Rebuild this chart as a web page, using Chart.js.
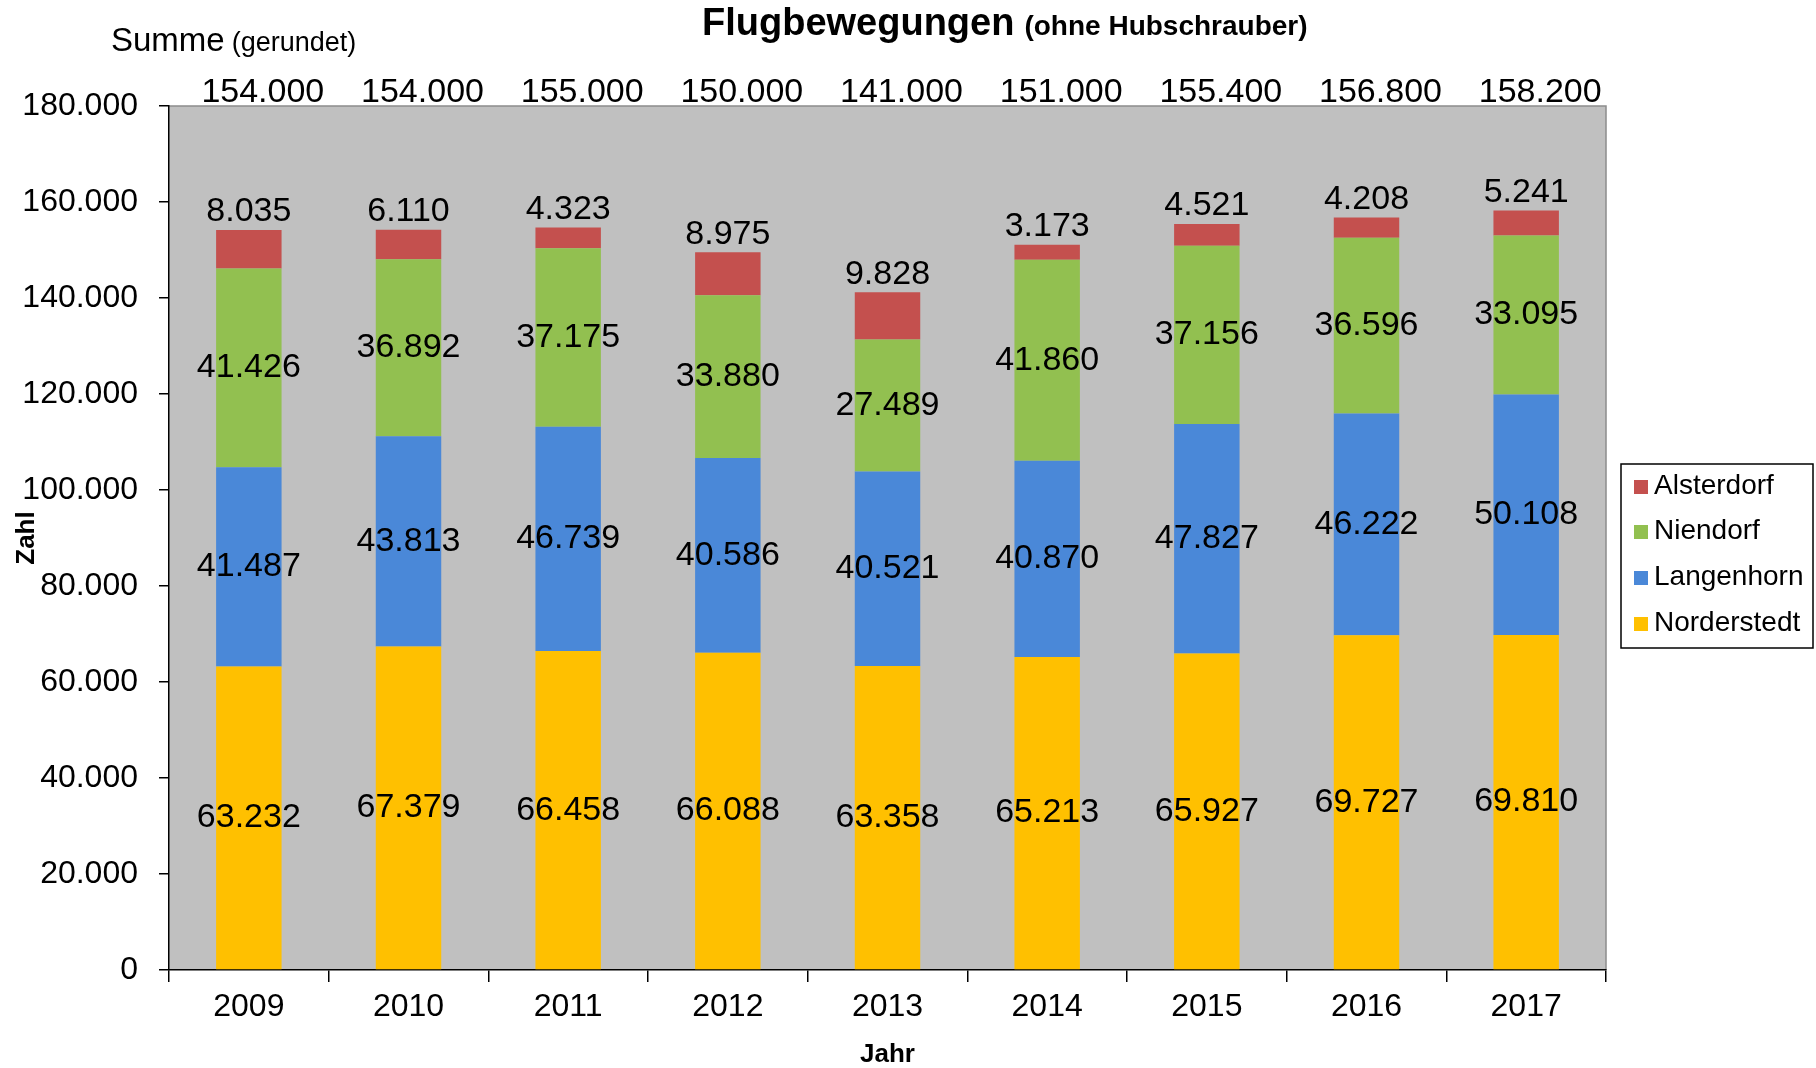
<!DOCTYPE html>
<html><head><meta charset="utf-8">
<script src="https://cdn.jsdelivr.net/npm/chart.js@4"></script>
<style>html,body{margin:0;padding:0;background:#fff;overflow:hidden}#wrap{width:1816px;height:1068px;position:relative}</style>
</head><body><div id="wrap"><canvas id="c" width="1816" height="1068"></canvas></div>
<script>
const years = ['2009','2010','2011','2012','2013','2014','2015','2016','2017'];
const norderstedt = [63232, 67379, 66458, 66088, 63358, 65213, 65927, 69727, 69810];
const langenhorn  = [41487, 43813, 46739, 40586, 40521, 40870, 47827, 46222, 50108];
const niendorf    = [41426, 36892, 37175, 33880, 27489, 41860, 37156, 36596, 33095];
const alsterdorf  = [8035, 6110, 4323, 8975, 9828, 3173, 4521, 4208, 5241];
const totals      = [154000, 154000, 155000, 150000, 141000, 151000, 155400, 156800, 158200];
const yMin = 0, yMax = 180000, yStep = 20000;

const FONT = "'Liberation Sans', Arial, sans-serif";
function fmt(n){ return String(Math.round(n)).replace(/\B(?=(\d{3})+(?!\d))/g, '.'); }

const decor = {
  id: 'decor',
  beforeDraw(chart){
    const {ctx, chartArea:a} = chart;
    ctx.save();
    ctx.fillStyle = '#C0C0C0';
    ctx.fillRect(a.left, a.top, a.right - a.left, a.bottom - a.top);
    ctx.strokeStyle = '#8C8C8C';
    ctx.lineWidth = 1.5;
    ctx.beginPath();
    ctx.moveTo(a.left, a.top); ctx.lineTo(a.right, a.top); ctx.lineTo(a.right, a.bottom);
    ctx.stroke();
    ctx.restore();
  },
  afterDatasetsDraw(chart){
    const {ctx, chartArea:a} = chart;
    ctx.save();
    ctx.fillStyle = '#000';
    ctx.textAlign = 'center';
    ctx.textBaseline = 'middle';
    ctx.font = '34px ' + FONT;
    const n = chart.data.datasets.length;
    chart.data.datasets.forEach((ds, di) => {
      const meta = chart.getDatasetMeta(di);
      meta.data.forEach((bar, i) => {
        const v = ds.data[i];
        if (di === n - 1) {
          ctx.fillText(fmt(v), bar.x, bar.y - 18);
        } else {
          ctx.fillText(fmt(v), bar.x, (bar.y + bar.base) / 2);
        }
      });
    });
    const meta0 = chart.getDatasetMeta(0);
    meta0.data.forEach((bar, i) => {
      ctx.fillText(fmt(totals[i]), bar.x + 14, a.top - 13);
    });
    ctx.restore();
  },
  afterDraw(chart){
    const {ctx} = chart;
    ctx.save();
    ctx.fillStyle = '#000';
    ctx.textBaseline = 'alphabetic';
    ctx.textAlign = 'left';
    // title
    ctx.font = 'bold 38px ' + FONT;
    ctx.fillText('Flugbewegungen', 702, 35);
    const w1 = ctx.measureText('Flugbewegungen').width;
    ctx.font = 'bold 28px ' + FONT;
    ctx.fillText('(ohne Hubschrauber)', 702 + w1 + 10, 35);
    // Summe
    ctx.font = '33px ' + FONT;
    ctx.fillText('Summe', 111, 51);
    const w2 = ctx.measureText('Summe').width;
    ctx.font = '27px ' + FONT;
    ctx.fillText('(gerundet)', 111 + w2 + 7, 51);
    // legend
    const lx = 1621, ly = 464, lw = 192, lh = 184;
    ctx.fillStyle = '#fff';
    ctx.fillRect(lx, ly, lw, lh);
    ctx.strokeStyle = '#000';
    ctx.lineWidth = 1.5;
    ctx.strokeRect(lx, ly, lw, lh);
    const rows = chart.data.datasets.slice().reverse();
    const rowY = [486, 531, 577, 623];
    ctx.font = '28px ' + FONT;
    ctx.textBaseline = 'middle';
    rows.forEach((ds, k) => {
      ctx.fillStyle = ds.backgroundColor;
      ctx.fillRect(1634, rowY[k] - 6, 14, 14);
      ctx.fillStyle = '#000';
      ctx.fillText(ds.label, 1654, rowY[k]);
    });
    ctx.restore();
  }
};

new Chart(document.getElementById('c'), {
  type: 'bar',
  data: {
    labels: years,
    datasets: [
      {label: 'Norderstedt', data: norderstedt, backgroundColor: '#FFC000'},
      {label: 'Langenhorn', data: langenhorn, backgroundColor: '#4A88D8'},
      {label: 'Niendorf', data: niendorf, backgroundColor: '#92C050'},
      {label: 'Alsterdorf', data: alsterdorf, backgroundColor: '#C4504E'}
    ]
  },
  options: {
    responsive: false,
    animation: false,
    layout: {padding: {left: 0, right: 210, top: 106, bottom: 0}},
    plugins: {legend: {display: false}, tooltip: {enabled: false}, title: {display: false}},
    datasets: {bar: {barPercentage: 0.41, categoryPercentage: 1}},
    scales: {
      x: {
        stacked: true, offset: true,
        grid: {offset: true, drawOnChartArea: false, tickLength: 12, color: '#000', lineWidth: 1.5},
        border: {color: '#000', width: 1.5},
        ticks: {font: {family: FONT, size: 32}, color: '#000', padding: 6, maxRotation: 0},
        title: {display: true, text: 'Jahr', color: '#000', font: {family: FONT, size: 26, weight: 'bold', lineHeight: 1}, padding: {top: 0, bottom: 0}},
        afterFit(s){ s.height = 98; }
      },
      y: {
        stacked: true, min: yMin, max: yMax,
        ticks: {stepSize: yStep, callback: v => fmt(v), font: {family: FONT, size: 32}, color: '#000', padding: 21},
        grid: {drawOnChartArea: false, tickLength: 10, color: '#000', lineWidth: 1.5},
        border: {color: '#000', width: 1.5},
        title: {display: true, text: 'Zahl', color: '#000', font: {family: FONT, size: 26, weight: 'bold', lineHeight: 1}, padding: {top: 14, bottom: 0}},
        afterFit(s){ s.width = 169; }
      }
    }
  },
  plugins: [decor]
});
</script>
</body></html>
